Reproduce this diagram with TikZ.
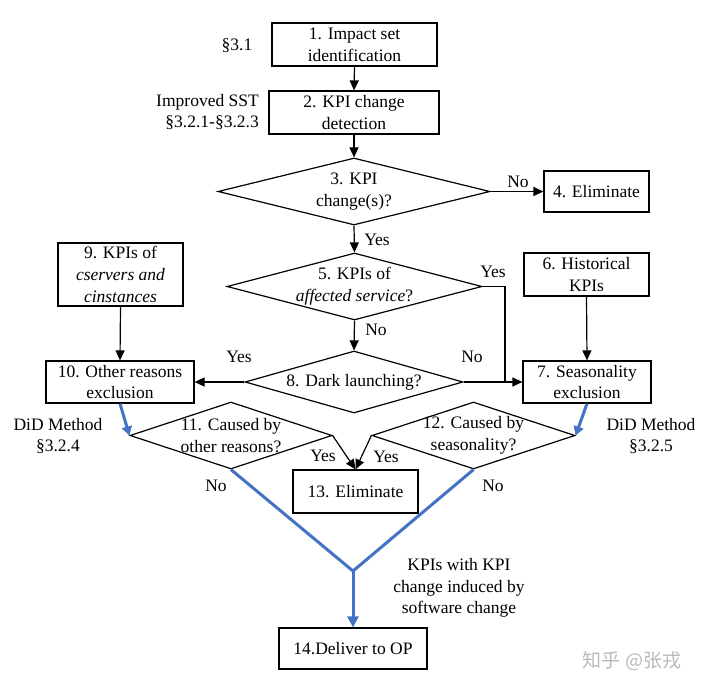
\documentclass[tikz,border=0pt]{standalone}
\usepackage{fontspec}
\IfFontExistsTF{LiberationSerif-Regular.ttf}
 {\setmainfont{LiberationSerif}[Extension=.ttf,UprightFont=*-Regular,ItalicFont=*-Italic,BoldFont=*-Bold,BoldItalicFont=*-BoldItalic]}
 {}
\newfontfamily\cjkfont{Noto Sans CJK SC}
\usetikzlibrary{shapes.geometric,arrows.meta}
\definecolor{arrowblue}{RGB}{68,114,196}
\definecolor{wmgray}{RGB}{185,185,185}
\begin{document}
\begin{tikzpicture}[x=1pt,y=-1pt,
  every node/.style={font=\rmfamily\fontsize{17.5}{21.8}\selectfont},
  box/.style={draw,line width=1.2pt,inner sep=0pt,align=center},
  dia/.style={draw,diamond,line width=1.2pt,inner sep=0pt},
  txt/.style={align=center,inner sep=0pt},
  arr/.style={line width=1.2pt,-{Triangle[length=10pt,width=9pt]}},
  barr/.style={arrowblue,line width=3pt,-{Triangle[length=11pt,width=11pt]}},
  bline/.style={arrowblue,line width=3pt},
  lab/.style={inner sep=0pt}]
\useasboundingbox (0,0) rectangle (707,690);

% boxes
\node[box,minimum width=165pt,minimum height=43pt] (b1) at (354.5,44.5) {1. Impact set\\identification};
\node[box,minimum width=170pt,minimum height=43pt] (b2) at (354,112.5) {2. KPI change\\detection};
\node[box,minimum width=105pt,minimum height=41pt] (b4) at (596.5,191.5) {4. Eliminate};
\node[box,minimum width=125pt,minimum height=43pt] (b6) at (586.5,274.5) {6. Historical\\KPIs};
\node[box,minimum width=128pt,minimum height=42pt] (b7) at (587,382) {7. Seasonality\\exclusion};
\node[box,minimum width=125pt,minimum height=63pt] (b9) at (120.5,274.5) {9. KPIs of\\\textit{cservers and}\\\textit{cinstances}};
\node[box,minimum width=148pt,minimum height=42pt] (b10) at (120,382) {10. Other reasons\\exclusion};
\node[box,minimum width=125pt,minimum height=43pt] (b13) at (355.5,491.5) {13. Eliminate};
\node[box,minimum width=148pt,minimum height=41pt] (b14) at (353,648.5) {14.Deliver to OP};

% diamonds
\node[dia,minimum width=272pt,minimum height=67pt] (d3) at (354,191.5) {};
\node[txt] (t3) at (d3) {3. KPI\\change(s)?};
\node[dia,minimum width=255pt,minimum height=67pt] (d5) at (354.5,286.5) {};
\node[txt] (t5) at (d5) {5. KPIs of\\\textit{affected service}?};
\node[dia,minimum width=218pt,minimum height=62pt] (d8) at (354,382) {};
\node[txt] (t8) at (d8) {8. Dark launching?};
\node[dia,minimum width=202pt,minimum height=67pt] (d11) at (231,435.5) {};
\node[txt] (t11) at (d11) {11. Caused by\\other reasons?};
\node[dia,minimum width=203pt,minimum height=67pt] (d12) at (473.5,435.5) {};
\node[txt] (t12) at (d12) {12. Caused by\\seasonality?};

% side labels
\node[lab] (s31) at (237,46) {\S3.1};
\node[lab,align=right,anchor=east] (s32) at (259,112) {Improved SST\\\S3.2.1-\S3.2.3};
\node[lab,align=center] (s324) at (58,436) {DiD Method\\\S3.2.4};
\node[lab,align=center] (s325) at (651,436) {DiD Method\\\S3.2.5};
\node[lab,align=center] (kpis) at (459,588) {KPIs with KPI\\change induced by\\software change};
\node[lab,text=wmgray,font=\cjkfont\fontsize{19}{22}\selectfont] (wm) at (632,661) {知乎 @张戎};

% edge labels
\node[lab] (l3y) at (377,240) {Yes};
\node[lab] (l3n) at (518,182) {No};
\node[lab] (l5y) at (493,272) {Yes};
\node[lab] (l5n) at (376,330) {No};
\node[lab] (l8y) at (239,357) {Yes};
\node[lab] (l8n) at (472,357) {No};
\node[lab] (l11y) at (323,456) {Yes};
\node[lab] (l12y) at (386,457) {Yes};
\node[lab] (l11n) at (216,486) {No};
\node[lab] (l12n) at (493,486) {No};

% coordinates
\coordinate (j1) at (505,382);
\coordinate (jb) at (353,571);

% black connectors
\draw[arr] (b1.south) -- (b2.north);
\draw[arr] (b2.south) -- (d3.north);
\draw[arr] (d3.east) -- (b4.west);
\draw[arr] (d3.south) -- (d5.north);
\draw[arr] (d5.south) -- (d8.north);
\draw[line width=1.2pt] (d5.east) -| (j1);
\draw[arr] (d8.east) -- (b7.west);
\draw[arr] (d8.west) -- (b10.east);
\draw[arr] (b9.south) -- (b10.north);
\draw[arr] (b6.south) -- (b7.north);
\draw[arr] (d11.east) -- (b13.north);
\draw[arr] (d12.west) -- (b13.north);

% blue connectors
\draw[barr,-{Triangle[length=9pt,width=10pt]}] (b10.south) -- (d11.west);
\draw[barr,-{Triangle[length=9pt,width=10pt]}] (b7.south) -- (d12.east);
\draw[bline,line join=miter] (d11.south) -- (jb) -- (d12.south);
\draw[barr] (jb) -- (b14.north);
\end{tikzpicture}
\end{document}
